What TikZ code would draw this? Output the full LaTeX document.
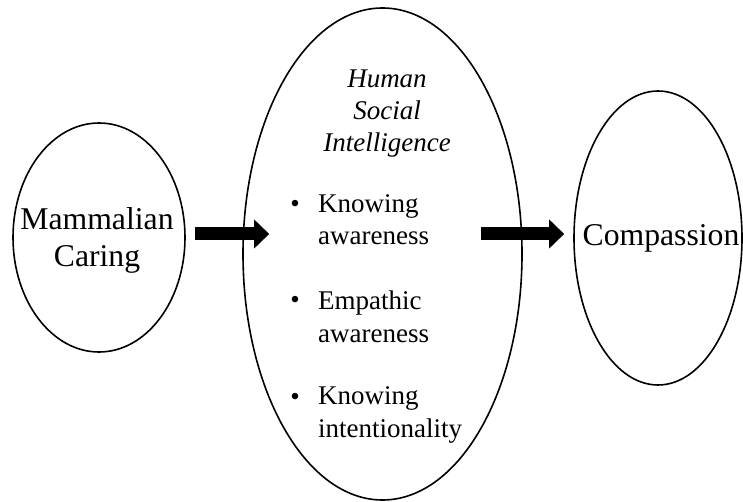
\documentclass[tikz,border=0pt]{standalone}
\usepackage{fontspec}
\setmainfont{Liberation Serif}
\usetikzlibrary{arrows.meta,shapes.geometric,calc}

\begin{document}
\begin{tikzpicture}[
  x=1pt, y=-1pt,
  oval/.style={draw=black, line width=1.6pt, ellipse, inner sep=0pt},
  big/.style={font=\fontsize{31.7}{37}\selectfont, align=center, inner sep=0pt},
  head/.style={font=\fontsize{27}{32}\selectfont\itshape, align=center, anchor=base, inner sep=0pt},
  item/.style={font=\fontsize{27}{32.5}\selectfont, align=left, anchor=base west, inner sep=0pt},
  dot/.style={font=\fontsize{27}{32.5}\selectfont, anchor=base, inner sep=0pt},
  arrow/.style={-{Triangle[length=15pt,width=28pt]}, line width=13pt}
]
\useasboundingbox (0,0) rectangle (743,502);
% the three ovals
\node[oval, minimum width=172pt, minimum height=229pt] (mammal) at (99,237.5) {};
\node[oval, minimum width=279pt, minimum height=492pt] (hsi) at (382.5,254) {};
\node[oval, minimum width=168pt, minimum height=294pt] (comp) at (658,238) {};

\node[big] (mammaltxt) at (97,240) {Mammalian\\Caring};
\node[big] (comptxt) at (661,238) {Compassion};

% inside the middle oval (base = last line)
\node[head] (hsitxt) at (387,152) {Human\\Social\\Intelligence};
\node[dot] (b1) at (295,213) {\textbullet};
\node[item] (know) at (318,245) {Knowing\\awareness};
\node[dot] (b2) at (295,308) {\textbullet};
\node[item] (empath) at (318,342) {Empathic\\awareness};
\node[dot] (b3) at (295,405) {\textbullet};
\node[item] (intent) at (318,437) {Knowing\\intentionality};

\draw[arrow] ($(mammal.east)+(9,-3.5)$) -- ($(hsi.west)+(27,-20)$);
\draw[arrow] ($(hsi.east)+(-42,-20)$) -- ($(comp.west)+(-9,-4)$);
\end{tikzpicture}
\end{document}
